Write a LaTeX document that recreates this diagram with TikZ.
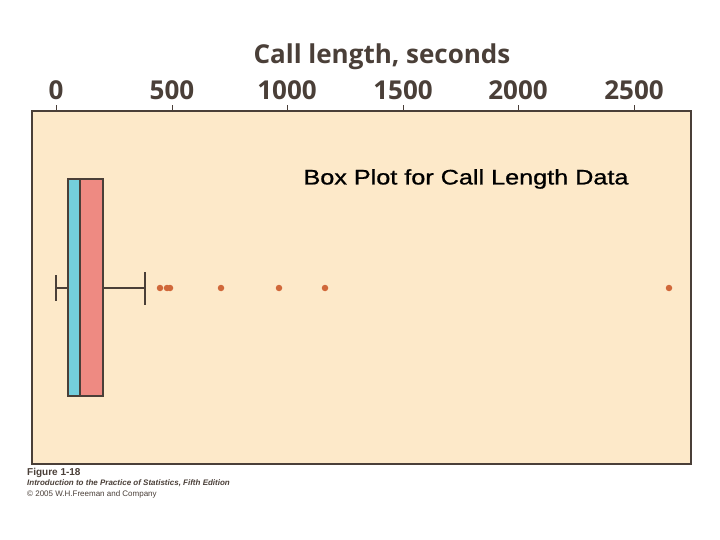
\documentclass[tikz,border=0pt]{standalone}
\usepackage{fontspec}
\setmainfont{Liberation Sans}
\newfontfamily\axfont{Open Sans}
\newfontfamily\lblfont[FakeBold=0.8]{Liberation Sans}
\definecolor{bg}{HTML}{FDE9C9}
\definecolor{frm}{HTML}{4A3F38}
\definecolor{bluebox}{HTML}{74CEDC}
\definecolor{redbox}{HTML}{EE8A82}
\definecolor{dotc}{HTML}{D0683A}
\tikzset{
  ln/.style={draw=frm, line width=1.6pt},
  outl/.style={fill=dotc, draw=none, circle, inner sep=0pt, minimum size=6.5pt},
  tick/.style={font=\axfont\bfseries\fontsize{26}{26}\selectfont, text=frm},
}
\begin{document}
\begin{tikzpicture}[x=1pt,y=-1pt]
\useasboundingbox (0,0) rectangle (720,540);
\fill[white] (0,0) rectangle (720,540);
\node[draw=frm, line width=1.6pt, fill=bg, minimum width=659pt, minimum height=353pt, anchor=north west, inner sep=0pt] (frame) at (31,110) {};
\foreach \v/\x in {0/56,500/172,1000/287,1500/403,2000/518,2500/634}{
  \draw[ln, line width=1pt] (\x,110) -- (\x,105);
  \node[tick] (t\v) at (\x,90) {\v};
}
\node[font=\axfont\bfseries\fontsize{26}{26}\selectfont, text=frm] (title) at (382,57) {Call length, seconds};
\node[font=\lblfont\fontsize{21}{21}\selectfont, transform shape, xscale=1.2, text=black] (lbl) at (466,179) {Box Plot for Call Length Data};
\coordinate (wl) at (56,288);
\coordinate (wr) at (145,288);
\draw[ln] (wl) -- (67,288);
\draw[ln] (102,288) -- (wr);
\draw[ln] (56,275) -- (56,301);
\draw[ln] (145,272) -- (145,305);
\node[ln, fill=bluebox, minimum width=12pt, minimum height=217pt, inner sep=0pt, anchor=north west] (q1) at (67,178) {};
\node[ln, fill=redbox, minimum width=23pt, minimum height=217pt, inner sep=0pt, anchor=north west] (q3) at (79,178) {};
\foreach \x [count=\i] in {160,167,170,221,279,325,669}{
  \node[outl] (o\i) at (\x,288) {};
}
\node[anchor=north west, inner sep=0pt, font=\bfseries\fontsize{10}{10}\selectfont, text=frm] (cap1) at (27,468) {Figure 1-18};
\node[anchor=north west, inner sep=0pt, font=\bfseries\itshape\fontsize{8}{9}\selectfont, text=frm] (cap2) at (27,480) {Introduction to the Practice of Statistics, Fifth Edition};
\node[anchor=north west, inner sep=0pt, font=\fontsize{8}{9}\selectfont, text=frm] (cap3) at (27,491) {\textcopyright{} 2005 W.H.Freeman and Company};
\end{tikzpicture}
\end{document}
